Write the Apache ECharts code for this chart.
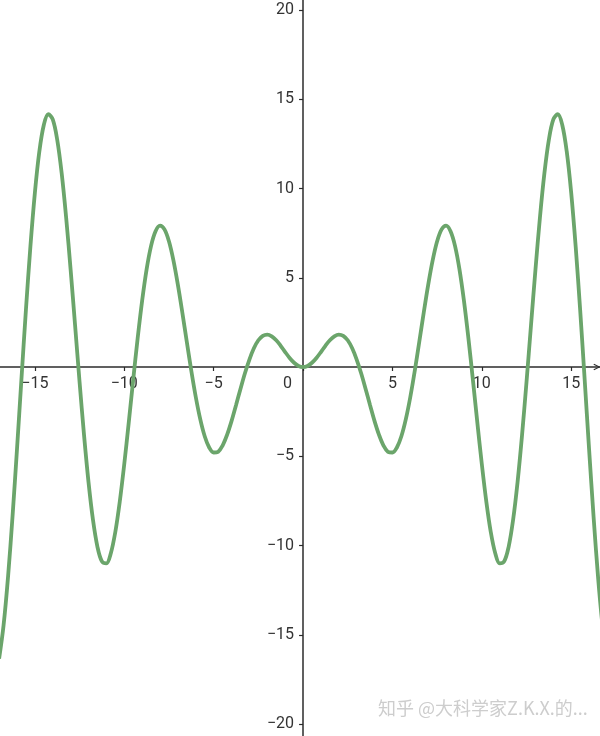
<!DOCTYPE html>
<html>
<head>
<meta charset="utf-8">
<script src="https://cdn.jsdelivr.net/npm/echarts@6/dist/echarts.min.js"></script>
<style>html,body{margin:0;padding:0;background:#fff}#c{width:600px;height:736px}</style>
</head>
<body>
<div id="c"></div>
<script>
// x positions and curve values
const xs = [-17, -16.75, -16.5, -16.25, -16, -15.75, -15.5, -15.25, -15, -14.75, -14.5, -14.25, -14, -13.75, -13.5, -13.25, -13, -12.75, -12.5, -12.25, -12, -11.75, -11.5, -11.25, -11, -10.75, -10.5, -10.25, -10, -9.75, -9.5, -9.25, -9, -8.75, -8.5, -8.25, -8, -7.75, -7.5, -7.25, -7, -6.75, -6.5, -6.25, -6, -5.75, -5.5, -5.25, -5, -4.75, -4.5, -4.25, -4, -3.75, -3.5, -3.25, -3, -2.75, -2.5, -2.25, -2, -1.75, -1.5, -1.25, -1, -0.75, -0.5, -0.25, 0, 0.25, 0.5, 0.75, 1, 1.25, 1.5, 1.75, 2, 2.25, 2.5, 2.75, 3, 3.25, 3.5, 3.75, 4, 4.25, 4.5, 4.75, 5, 5.25, 5.5, 5.75, 6, 6.25, 6.5, 6.75, 7, 7.25, 7.5, 7.75, 8, 8.25, 8.5, 8.75, 9, 9.25, 9.5, 9.75, 10, 10.25, 10.5, 10.75, 11, 11.25, 11.5, 11.75, 12, 12.25, 12.5, 12.75, 13, 13.25, 13.5, 13.75, 14, 14.25, 14.5, 14.75, 15, 15.25, 15.5, 15.75, 16, 16.25, 16.5, 16.75, 17];
const ys = [-16.34, -14.47, -11.75, -8.38, -4.61, -0.66, 3.20, 6.74, 9.75, 12.07, 13.56, 14.16, 13.87, 12.73, 10.85, 8.37, 5.46, 2.33, -0.83, -3.81, -6.44, -8.56, -10.07, -10.89, -11.00, -10.43, -9.24, -7.53, -5.44, -3.12, -0.71, 1.61, 3.71, 5.47, 6.79, 7.61, 7.92, 7.71, 7.04, 5.97, 4.60, 3.04, 1.40, -0.21, -1.68, -2.92, -3.88, -4.51, -4.79, -4.75, -4.40, -3.80, -3.03, -2.14, -1.23, -0.35, 0.42, 1.05, 1.50, 1.75, 1.82, 1.72, 1.50, 1.19, 0.84, 0.51, 0.24, 0.06, 0, 0.06, 0.24, 0.51, 0.84, 1.19, 1.50, 1.72, 1.82, 1.75, 1.50, 1.05, 0.42, -0.35, -1.23, -2.14, -3.03, -3.80, -4.40, -4.75, -4.79, -4.51, -3.88, -2.92, -1.68, -0.21, 1.40, 3.04, 4.60, 5.97, 7.04, 7.71, 7.92, 7.61, 6.79, 5.47, 3.71, 1.61, -0.71, -3.12, -5.44, -7.53, -9.24, -10.43, -11.00, -10.89, -10.07, -8.56, -6.44, -3.81, -0.83, 2.33, 5.46, 8.37, 10.85, 12.73, 13.87, 14.16, 13.56, 12.07, 9.75, 6.74, 3.20, -0.66, -4.61, -8.38, -11.75, -14.47, -16.34];
const xTickValues = [-15, -10, -5, 0, 5, 10, 15];
const yTickValues = [-20, -15, -10, -5, 5, 10, 15, 20];
const watermark = '知乎 @大科学家Z.K.X.的...';

const data = xs.map((x, i) => [x, ys[i]]);
const fmt = v => (v < 0 ? '\u2212' + Math.abs(v) : String(v));

const W = 600, H = 736;
const xMin = -16.95, xMax = 16.61, yMin = -20.67, yMax = 20.56;
// put axes through the origin
const xAxisOffset = -H * (0 - yMin) / (yMax - yMin);
const yAxisOffset = -W * (0 - xMin) / (xMax - xMin);

const chart = echarts.init(document.getElementById('c'));
chart.setOption({
  animation: false,
  backgroundColor: '#ffffff',
  grid: { left: 0, right: 0, top: 0, bottom: 0, containLabel: false, outerBoundsMode: 'none' },
  xAxis: {
    type: 'value', min: xMin, max: xMax, position: 'bottom', offset: xAxisOffset,
    splitLine: { show: false },
    axisLine: { onZero: false, lineStyle: { color: '#2b2b2b', width: 1.5 },
      symbol: ['none', 'path://M0,10 L5,0 L10,10 L8.6,10.8 L5,3.2 L1.4,10.8 Z'],
      symbolSize: [9, 7], symbolOffset: [0, -3] },
    axisTick: { show: true, length: 4, lineStyle: { color: '#2b2b2b', width: 1.2 }, customValues: xTickValues },
    axisLabel: {
      customValues: xTickValues, margin: 9, color: '#333', fontSize: 16, fontFamily: 'Roboto',
      formatter: v => (v === 0 ? '{z|0}' : fmt(v)),
      rich: { z: { padding: [0, 31, 0, 0], fontSize: 16, fontFamily: 'Roboto', color: '#333' } }
    }
  },
  yAxis: {
    type: 'value', min: yMin, max: yMax, position: 'left', offset: yAxisOffset,
    splitLine: { show: false },
    axisLine: { onZero: false, lineStyle: { color: '#2b2b2b', width: 1.5 } },
    axisTick: { show: true, length: 4, lineStyle: { color: '#2b2b2b', width: 1.2 }, customValues: yTickValues },
    axisLabel: { customValues: yTickValues, margin: 9, color: '#333', fontSize: 16, fontFamily: 'Roboto', formatter: fmt }
  },
  series: [{
    type: 'line', data: data, smooth: 0.35, showSymbol: false, symbol: 'none',
    lineStyle: { color: '#6ba56b', width: 3.8 }
  }],
  graphic: [{
    type: 'text', left: 378, top: 699,
    style: { text: watermark, fill: '#cdcdcd', font: '18px "Noto Sans CJK SC", sans-serif',
      shadowColor: 'rgba(255,255,255,0.9)', shadowOffsetX: 1, shadowOffsetY: 1 }
  }]
});
</script>
</body>
</html>
